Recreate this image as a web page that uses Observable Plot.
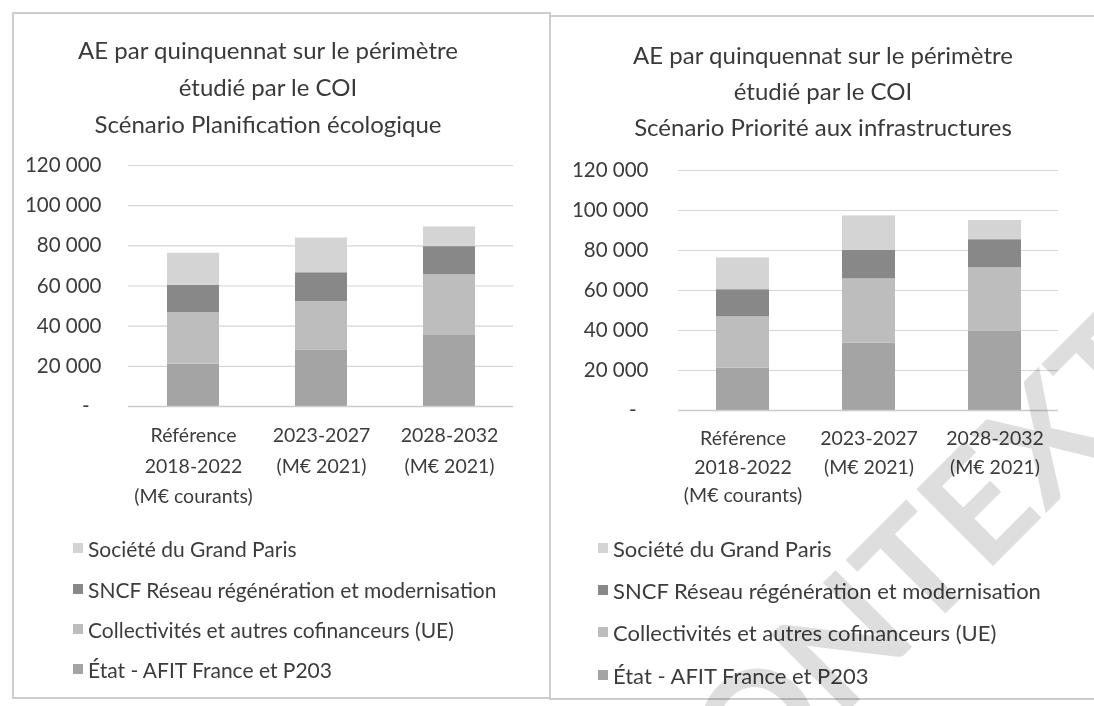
<!DOCTYPE html>
<html>
<head>
<meta charset="utf-8">
<script src="https://cdn.jsdelivr.net/npm/d3@7"></script>
<script src="https://cdn.jsdelivr.net/npm/@observablehq/plot@0.6"></script>
<style>
  html, body { margin: 0; padding: 0; background: #fff; }
  #root { position: relative; width: 1094px; height: 706px; overflow: hidden; font-family: Lato, "Open Sans", sans-serif; color: #3c3c3c; }
  .panel { position: absolute; border: 2px solid #cdcdcd; box-sizing: border-box; }
  .title { position: absolute; text-align: center; font-size: 24px; color: #3a3a3a; white-space: nowrap; }
  .plot { position: absolute; }
  .legend { position: absolute; color: #3c3c3c; }
  .legend .item { position: absolute; white-space: nowrap; display: flex; align-items: center; }
  .legend .sw { width: 10px; height: 10px; margin-right: 5px; display: inline-block; }
  #wm { position: absolute; left: 0; top: 0; mix-blend-mode: multiply; pointer-events: none; }
</style>
</head>
<body>
<div id="root">
  <div class="panel" style="left:12px; top:12px; width:539px; height:687px;"></div>
  <div class="panel" style="left:549px; top:15px; width:560px; height:685px;"></div>
  <div class="title" id="t1" style="left:13px; width:510px; top:31px; line-height:37px;"></div>
  <div class="title" id="t2" style="left:550px; width:546px; top:37px; line-height:36px;"></div>
  <div class="plot" id="p1" style="left:13px; top:150px;"></div>
  <div class="plot" id="p2" style="left:550px; top:150px;"></div>
  <div class="legend" id="l1" style="left:73px; top:0px; font-size:21px;"></div>
  <div class="legend" id="l2" style="left:598px; top:0px; font-size:22px;"></div>
</div>
<script>
// ---- data ----
const periodKeys = ["ref", "p2023", "p2028"];
const periodLabels = ["Référence\n2018-2022\n(M€ courants)", "2023-2027\n(M€ 2021)", "2028-2032\n(M€ 2021)"];
const seriesNames = [
  "État - AFIT France et P203",
  "Collectivités et autres cofinanceurs (UE)",
  "SNCF Réseau régénération et modernisation",
  "Société du Grand Paris"
];
const seriesColors = ["#a4a4a4", "#bdbdbd", "#888888", "#d4d4d4"];
const yTicks = [0, 20000, 40000, 60000, 80000, 100000, 120000];

// Scénario Planification écologique
const planEtat = [21100, 28200, 35700];
const planColl = [25700, 24100, 29900];
const planSncf = [13600, 14300, 14000];
const planSgp  = [15900, 17300, 9800];

// Scénario Priorité aux infrastructures
const infraEtat = [21100, 33600, 39700];
const infraColl = [25700, 32200, 31600];
const infraSncf = [13600, 14300, 14100];
const infraSgp  = [15900, 17200, 9600];

const titleLeft = ["AE par quinquennat sur le périmètre", "étudié par le COI", "Scénario Planification écologique"];
const titleRight = ["AE par quinquennat sur le périmètre", "étudié par le COI", "Scénario Priorité aux infrastructures"];

function rows(etat, coll, sncf, sgp) {
  const out = [];
  const cols = [etat, coll, sncf, sgp];
  periodKeys.forEach((k, i) => {
    cols.forEach((c, s) => out.push({period: k, series: seriesNames[s], value: c[i]}));
  });
  return out;
}

const fmtY = d => d === 0 ? "-\u2007" : d3.format(",")(d).replace(/,/g, " ");
const labelOf = k => periodLabels[periodKeys.indexOf(k)];

function chart(data, o) {
  return Plot.plot({
    width: 530,
    height: 370,
    marginLeft: o.ml,
    marginRight: o.mr,
    marginTop: o.mt,
    marginBottom: o.mb,
    style: {fontFamily: "Lato, 'Open Sans', sans-serif", fontSize: "20px", color: "#3c3c3c", background: "transparent", overflow: "visible"},
    x: {domain: periodKeys, paddingInner: o.pad, paddingOuter: o.pad / 2, label: null},
    y: {domain: [0, 120000], label: null},
    color: {domain: seriesNames, range: seriesColors},
    marks: [
      Plot.gridY(yTicks.slice(1), {stroke: "#d6d6d6", strokeOpacity: 1, strokeWidth: 1.2}),
      Plot.barY(data, {x: "period", y: "value", fill: "series"}),
      Plot.ruleY([0], {stroke: "#cccccc", strokeWidth: 1.5}),
      Plot.axisY(yTicks, {tickSize: 0, tickPadding: o.tp, tickFormat: fmtY, fontSize: 20.5, label: null, fill: "#3c3c3c"}),
      Plot.axisX({tickSize: 0, tickPadding: 14, tickFormat: labelOf, fontSize: 19.5, lineHeight: o.lh, label: null, fill: "#3c3c3c"})
    ]
  });
}

document.getElementById("p1").appendChild(chart(rows(planEtat, planColl, planSncf, planSgp),
  {ml: 115, mr: 30, mt: 15, mb: 114, pad: 0.595, tp: 27, lh: 1.56}));
document.getElementById("p2").appendChild(chart(rows(infraEtat, infraColl, infraSncf, infraSgp),
  {ml: 128, mr: 22, mt: 20, mb: 110, pad: 0.582, tp: 30, lh: 1.47}));

document.getElementById("t1").innerHTML = titleLeft.join("<br>");
document.getElementById("t2").innerHTML = titleRight.join("<br>");

function legend(el, ys) {
  const order = [3, 2, 1, 0];
  order.forEach((s, i) => {
    const it = document.createElement("div");
    it.className = "item";
    it.style.top = (ys[i] - 14) + "px";
    it.style.height = "28px";
    const sw = document.createElement("span");
    sw.className = "sw";
    sw.style.background = seriesColors[s];
    it.appendChild(sw);
    it.appendChild(document.createTextNode(seriesNames[s]));
    el.appendChild(it);
  });
}
legend(document.getElementById("l1"), [548, 589, 629, 669]);
legend(document.getElementById("l2"), [548, 590, 632, 675]);

// watermark overlay (scan watermark)
const ns = "http://www.w3.org/2000/svg";
const wm = document.createElementNS(ns, "svg");
wm.setAttribute("id", "wm");
wm.setAttribute("width", 1094);
wm.setAttribute("height", 706);
const t = document.createElementNS(ns, "text");
t.setAttribute("x", 922);
t.setAttribute("y", 555);
t.setAttribute("text-anchor", "middle");
t.setAttribute("dominant-baseline", "central");
t.setAttribute("transform", "rotate(-45 922 555)");
t.setAttribute("font-family", "Lato, sans-serif");
t.setAttribute("font-weight", "700");
t.setAttribute("font-size", "150");
t.setAttribute("fill", "#dedede");
t.textContent = "CONTEXTE";
wm.appendChild(t);
document.getElementById("root").appendChild(wm);
</script>
</body>
</html>
